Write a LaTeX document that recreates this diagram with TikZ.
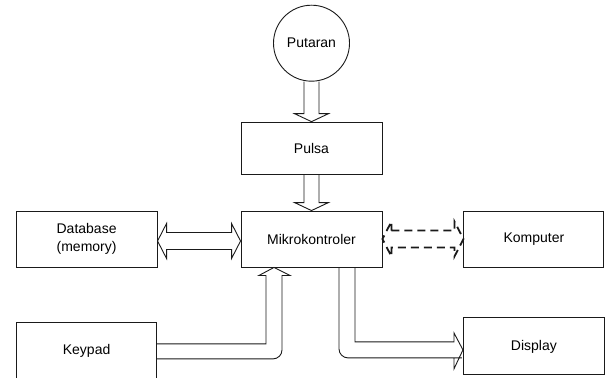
\documentclass[tikz,border=0pt]{standalone}
\usepackage{fontspec}
\setmainfont{Liberation Sans}
\usepackage{tikz}
\usetikzlibrary{positioning,calc}
\definecolor{LineDark}{HTML}{1A1A1A}
\tikzset{
  block/.style={rectangle,draw=LineDark,line width=0.9pt,fill=white,minimum width=141pt,minimum height=56pt,inner sep=0pt,align=center,font=\fontsize{14}{18}\selectfont},
  wheel/.style={circle,draw=LineDark,line width=0.9pt,fill=white,minimum size=76pt,inner sep=0pt,font=\fontsize{14}{18}\selectfont},
  fat/.style={draw=LineDark,line width=0.9pt,line join=miter},
  fatdash/.style={draw=LineDark,line width=1.8pt,dash pattern=on 8pt off 5pt},
}
% vertical hollow arrow, from south of #1 to north of #2
\newcommand{\fatdown}[2]{%
  \draw[fat] ([xshift=-7.5pt]#1.south) -- ([shift={(-7.5pt,8pt)}]#2.north)
    -- ([shift={(-17pt,8pt)}]#2.north) -- (#2.north)
    -- ([shift={(17pt,8pt)}]#2.north) -- ([shift={(7.5pt,8pt)}]#2.north)
    -- ([xshift=7.5pt]#1.south);}
% horizontal hollow double arrow between east of #2 and west of #3
\newcommand{\fatboth}[4][fat]{%
  \draw[#1] ([shift={(9pt,#4+8.5pt)}]#2.east) -- ([shift={(-9pt,#4+8.5pt)}]#3.west)
    -- ([shift={(-9pt,#4+17.5pt)}]#3.west) -- ([yshift=#4]#3.west)
    -- ([shift={(-9pt,#4-17.5pt)}]#3.west) -- ([shift={(-9pt,#4-8.5pt)}]#3.west)
    -- ([shift={(9pt,#4-8.5pt)}]#2.east) -- ([shift={(9pt,#4-17.5pt)}]#2.east)
    -- ([yshift=#4]#2.east) -- ([shift={(9pt,#4+17.5pt)}]#2.east) -- cycle;}

\begin{document}
\begin{tikzpicture}[x=1pt,y=-1pt]
  \useasboundingbox (0,0) rectangle (609,377);

  \node[block] (mikro) at (311.5,239) {Mikrokontroler};
  \node[block, minimum height=52pt, above=36pt of mikro] (pulsa) {Pulsa};
  \node[wheel, above=40pt of pulsa] (putaran) {Putaran};
  \node[block, left=83pt of mikro] (database) {Database\\(memory)};
  \node[block, minimum width=140pt, right=81pt of mikro] (komputer) {Komputer};
  \node[block, minimum width=140pt, below=55pt of database] (keypad) {Keypad};
  \node[block, minimum height=57pt, below=50pt of komputer] (display) {Display};

  \fatdown{putaran}{pulsa}
  \fatdown{pulsa}{mikro}
  \fatboth{database}{mikro}{-2pt}
  \fatboth[fatdash]{mikro}{komputer}{0pt}

  % keypad up into the controller
  \draw[fat] ([yshift=7pt]keypad.east) -| ([shift={(-45.5pt,-8pt)}]mikro.south)
    -- ([shift={(-52.5pt,-8pt)}]mikro.south) -- ([xshift=-37.5pt]mikro.south)
    -- ([shift={(-21.5pt,-8pt)}]mikro.south) -- ([shift={(-29.5pt,-8pt)}]mikro.south)
    -- ([shift={(-29.5pt,-9pt)}]mikro.south)
    [rounded corners=9pt] |- ([yshift=-8pt]keypad.east);

  % controller down to the display
  \draw[fat] ([xshift=27.5pt]mikro.south)
    [rounded corners=9pt] |- ([shift={(-10pt,-11.5pt)}]display.west)
    [sharp corners] -- ([shift={(-9pt,-11.5pt)}]display.west)
    -- ([shift={(-9pt,-22.5pt)}]display.west) -- ([yshift=-3.5pt]display.west)
    -- ([shift={(-9pt,13.5pt)}]display.west) -- ([shift={(-9pt,4.5pt)}]display.west)
    -| ([xshift=43.5pt]mikro.south);
\end{tikzpicture}
\end{document}
